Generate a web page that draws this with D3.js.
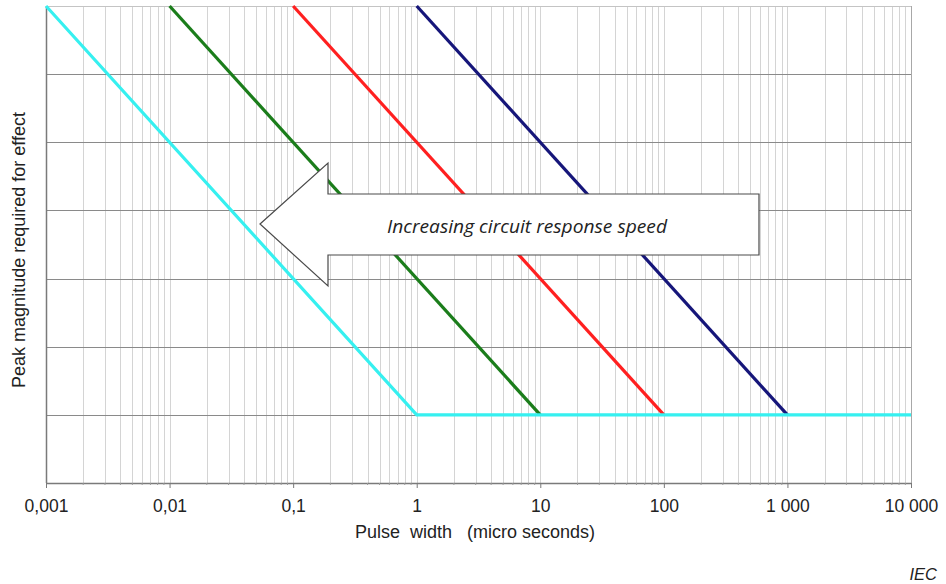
<!DOCTYPE html>
<html>
<head>
<meta charset="utf-8">
<script src="https://cdn.jsdelivr.net/npm/d3@7"></script>
<style>
  html, body { margin: 0; padding: 0; background: #fff; }
  svg { display: block; }
  .pre { white-space: pre; }
</style>
</head>
<body>
<svg id="chart" width="946" height="584"></svg>
<script>
// Pulse width decades (microseconds) and their labels
const decades = [0.001, 0.01, 0.1, 1, 10, 100, 1000, 10000];
const decadeLabels = ["0,001", "0,01", "0,1", "1", "10", "100", "1 000", "10 000"];

// Relative peak-magnitude levels (unlabelled axis, one per grid line)
const levels = [0, 1, 2, 3, 4, 5, 6, 7];

// Threshold curves: pulse width vs. relative peak magnitude
const cyanX  = [0.001, 1, 10000];
const cyanY  = [7, 1, 1];
const greenX = [0.01, 10];
const greenY = [7, 1];
const redX   = [0.1, 100];
const redY   = [7, 1];
const navyX  = [1, 1000];
const navyY  = [7, 1];

const svg = d3.select("#chart");
const plotL = 46, plotR = 911, plotT = 6, plotB = 483;

const x = d3.scaleLog().domain([0.001, 10000]).range([plotL, plotR]);
const y = d3.scaleLinear().domain([0, 7]).range([plotB, plotT]);

// minor positions 2..9 in each decade
const minors = [];
decades.slice(0, -1).forEach(d => { for (let k = 2; k <= 9; k++) minors.push(d * k); });

const grid = svg.append("g");
grid.selectAll("line.v").data(minors.concat(decades.slice(1, -1))).join("line")
  .attr("x1", d => Math.round(x(d)) + 0.5).attr("x2", d => Math.round(x(d)) + 0.5)
  .attr("y1", plotT).attr("y2", plotB)
  .attr("stroke", "#d4d4d4").attr("stroke-width", 1);

grid.selectAll("line.h").data(levels.slice(1, -1)).join("line")
  .attr("x1", plotL).attr("x2", plotR)
  .attr("y1", d => Math.round(y(d)) + 0.5).attr("y2", d => Math.round(y(d)) + 0.5)
  .attr("stroke", "#8a8a8a").attr("stroke-width", 1);

// frame: top and right light, left and bottom as axes
grid.append("line").attr("x1", plotL).attr("x2", plotR).attr("y1", plotT + 0.5).attr("y2", plotT + 0.5)
  .attr("stroke", "#c4c4c4");
grid.append("line").attr("x1", plotR + 0.5).attr("x2", plotR + 0.5).attr("y1", plotT).attr("y2", plotB)
  .attr("stroke", "#a8a8a8");

// x axis with decade labels
const xAxis = d3.axisBottom(x).tickValues(decades)
  .tickFormat((d, i) => decadeLabels[i]).tickSize(5).tickSizeOuter(0);
const gx = svg.append("g").attr("transform", `translate(0,${plotB})`).call(xAxis);
gx.select(".domain").attr("stroke", "#7a7a7a").attr("stroke-width", 1.5);
gx.selectAll(".tick line").attr("stroke", "#7a7a7a");
gx.selectAll(".tick text")
  .attr("font-family", "Liberation Sans, Arial, sans-serif")
  .attr("font-size", 17.5).attr("fill", "#222").attr("dy", "1.2em");

// minor ticks
svg.append("g").selectAll("line").data(minors).join("line")
  .attr("x1", d => x(d)).attr("x2", d => x(d))
  .attr("y1", plotB).attr("y2", plotB + 2)
  .attr("stroke", "#9a9a9a");

// y axis line (no labels)
svg.append("line").attr("x1", plotL + 0.5).attr("x2", plotL + 0.5).attr("y1", plotT).attr("y2", plotB)
  .attr("stroke", "#7a7a7a").attr("stroke-width", 1.5);

// curves
const line = d3.line().x(d => x(d[0])).y(d => y(d[1]));
const curves = [
  { xs: navyX,  ys: navyY,  color: "#16167a" },
  { xs: redX,   ys: redY,   color: "#ff2020" },
  { xs: greenX, ys: greenY, color: "#1b7d1b" },
  { xs: cyanX,  ys: cyanY,  color: "#36f0f0" }
];
svg.append("g").selectAll("path").data(curves).join("path")
  .attr("d", c => line(c.xs.map((v, i) => [v, c.ys[i]])))
  .attr("fill", "none").attr("stroke", c => c.color)
  .attr("stroke-width", 3.2).attr("stroke-linejoin", "miter");

// block arrow pointing left
const arrow = [[260, 224], [328, 163], [328, 194], [759, 194], [759, 255], [328, 255], [328, 286]];
svg.append("polygon")
  .attr("points", arrow.map(p => p.join(",")).join(" "))
  .attr("fill", "#fff").attr("stroke", "#4a4a4a").attr("stroke-width", 1.2);
svg.append("text")
  .attr("x", 527).attr("y", 233).attr("text-anchor", "middle")
  .attr("font-family", "'Open Sans', Lato, sans-serif").attr("font-style", "italic")
  .attr("font-size", 18).attr("fill", "#222")
  .attr("textLength", 280).attr("lengthAdjust", "spacingAndGlyphs")
  .text("Increasing circuit response speed");

// axis titles
svg.append("text").attr("class", "pre")
  .attr("x", 475).attr("y", 538).attr("text-anchor", "middle")
  .attr("font-family", "Liberation Sans, Arial, sans-serif").attr("font-size", 18)
  .attr("fill", "#222")
  .text("Pulse  width   (micro seconds)");
svg.append("text")
  .attr("transform", "translate(25,250) rotate(-90)").attr("text-anchor", "middle")
  .attr("font-family", "Liberation Sans, Arial, sans-serif").attr("font-size", 18)
  .attr("fill", "#222")
  .text("Peak magnitude required for effect");

svg.append("text")
  .attr("x", 937).attr("y", 580).attr("text-anchor", "end")
  .attr("font-family", "Liberation Sans, Arial, sans-serif").attr("font-style", "italic")
  .attr("font-size", 16.5).attr("fill", "#222")
  .text("IEC");
</script>
</body>
</html>
